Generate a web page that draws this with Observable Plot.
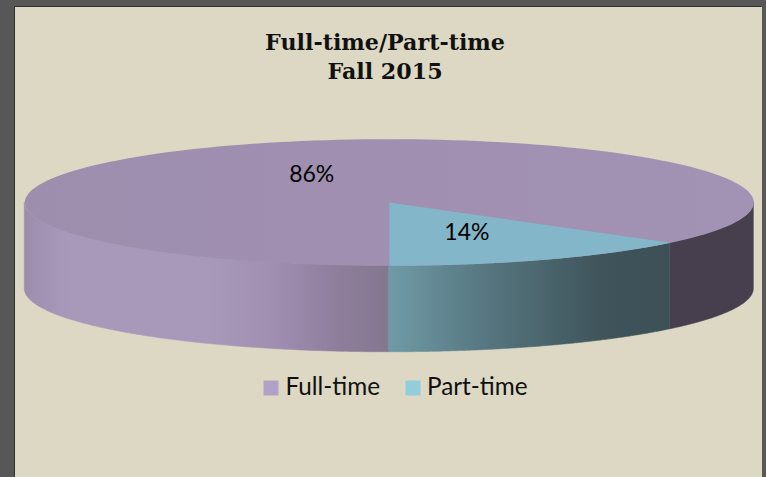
<!DOCTYPE html>
<html>
<head>
<meta charset="utf-8">
<script src="https://cdn.jsdelivr.net/npm/d3@7"></script>
<script src="https://cdn.jsdelivr.net/npm/@observablehq/plot@0.6"></script>
<style>
html,body{margin:0;padding:0;background:#575757;}
#stage{position:relative;width:766px;height:477px;overflow:hidden;background:#575757;}
#panel{position:absolute;left:15px;top:7px;width:747px;height:470px;background:#ddd8c3;box-shadow:-1px -1px 0 #2e2e2e;}
#chart{position:absolute;left:0;top:0;}
#chart svg{display:block;background:transparent;}
</style>
</head>
<body>
<div id="stage"><div id="panel"></div><div id="chart"></div></div>
<script>
const titleLines = ["Full-time/Part-time", "Fall 2015"];
const categories = ["Full-time", "Part-time"];
const shares = [86, 14];
const legendColors = ["#b2a1c7", "#92cddc"];
const topColors = ["#a291b3", "#83b6c8"];

const depth = 1.366;               // wall height, in units of the ellipse's minor radius
const pie = d3.pie().sort(null).startAngle(Math.PI).endAngle(3 * Math.PI)(shares);
const [full, part] = pie;
const arcPts = (a0, a1) => d3.range(181).map(i => {
  const a = a0 + (a1 - a0) * i / 180;
  return {x: Math.sin(a), y: Math.cos(a)};
});
const wall = (a0, a1) => arcPts(a0, a1).map(p => ({x: p.x, y1: p.y, y2: p.y - depth}));

const partStart = part.startAngle - 2 * Math.PI;   // seen on the front-right of the rim
const wallLeft  = wall(Math.PI, 1.5 * Math.PI);
const wallPart  = wall(partStart, Math.PI);
const wallRight = wall(Math.PI / 2, partStart);

const topEllipse = arcPts(0, 2 * Math.PI);
const topPart = [{x: 0, y: 0}, ...arcPts(partStart, Math.PI), {x: 0, y: 0}];

const mid = d => {
  const a = (d.startAngle + d.endAngle) / 2;
  return {x: 0.5 * Math.sin(a), y: 0.5 * Math.cos(a), label: d.value + "%"};
};
const labels = pie.map(mid);

const gradient = (sel, id, x1, x2, stops) => {
  const g = sel.append("linearGradient").attr("id", id)
    .attr("gradientUnits", "userSpaceOnUse")
    .attr("x1", x1).attr("x2", x2).attr("y1", 0).attr("y2", 0);
  stops.forEach(([o, c]) => g.append("stop").attr("offset", o).attr("stop-color", c));
};
const defs = (index, {x}) => {
  const d = d3.create("svg:defs");
  gradient(d, "wallFull", x(-1), x(0), [
    [0, "#9d8dad"], [0.12, "#a898ba"], [0.5, "#a898ba"],
    [0.68, "#a08fb1"], [0.85, "#8f7e9c"], [1, "#83778f"]]);
  gradient(d, "wallPart", x(0), x(Math.sin(partStart)), [
    [0, "#6f9ba6"], [0.35, "#567680"], [0.75, "#3f555b"], [1, "#3c5056"]]);
  gradient(d, "topFull", x(-1), x(1), [
    [0, "#9e8eae"], [0.45, "#a08fb0"], [1, "#a292b4"]]);
  return d.node();
};

const titleFont = {fontFamily: "DejaVu Serif", fontWeight: "bold", fontSize: 22.2, fill: "#111", frameAnchor: "top", textAnchor: "middle", lineAnchor: "middle", dx: 1.5};
const labelFont = {fontFamily: "Lato", fontSize: 23, fill: "#000", dy: 1};
const legendFont = {fontFamily: "Lato", fontSize: 24.3, fill: "#111"};
const seam = f => ({fill: f, stroke: f, strokeWidth: 0.6});

const plot = Plot.plot({
  width: 766, height: 477,
  marginTop: 0, marginRight: 0, marginBottom: 0, marginLeft: 0,
  style: {background: "transparent"},
  x: {domain: [-1, 1], range: [24.3, 753.3], axis: null},
  y: {domain: [1, -1], range: [138.7, 265.3], axis: null},
  color: {domain: categories, range: legendColors},
  marks: [
    defs,
    Plot.areaY(wallLeft,  {x: "x", y1: "y1", y2: "y2", ...seam("url(#wallFull)")}),
    Plot.areaY(wallRight, {x: "x", y1: "y1", y2: "y2", ...seam("#483f4e")}),
    Plot.areaY(wallPart,  {x: "x", y1: "y1", y2: "y2", ...seam("url(#wallPart)")}),
    Plot.line(topEllipse, {x: "x", y: "y", fill: "url(#topFull)", stroke: null}),
    Plot.line(topPart,    {x: "x", y: "y", fill: topColors[1], stroke: null}),
    Plot.text(labels, {x: "x", y: "y", text: "label", ...labelFont}),
    ...titleLines.map((t, i) => Plot.text([t], {...titleFont, dy: 42 + i * 29})),
    ...categories.map((c, i) => Plot.dot([c], {
      fill: d => d, symbol: "square", r: 8.46, frameAnchor: "top-left",
      dx: [270.5, 412.5][i], dy: 387.5
    })),
    ...categories.map((c, i) => Plot.text([c], {
      ...legendFont, frameAnchor: "top-left", textAnchor: "start", lineAnchor: "middle",
      dx: [285, 426.5][i], dy: 387
    }))
  ]
});
document.getElementById("chart").append(plot);
</script>
</body>
</html>
